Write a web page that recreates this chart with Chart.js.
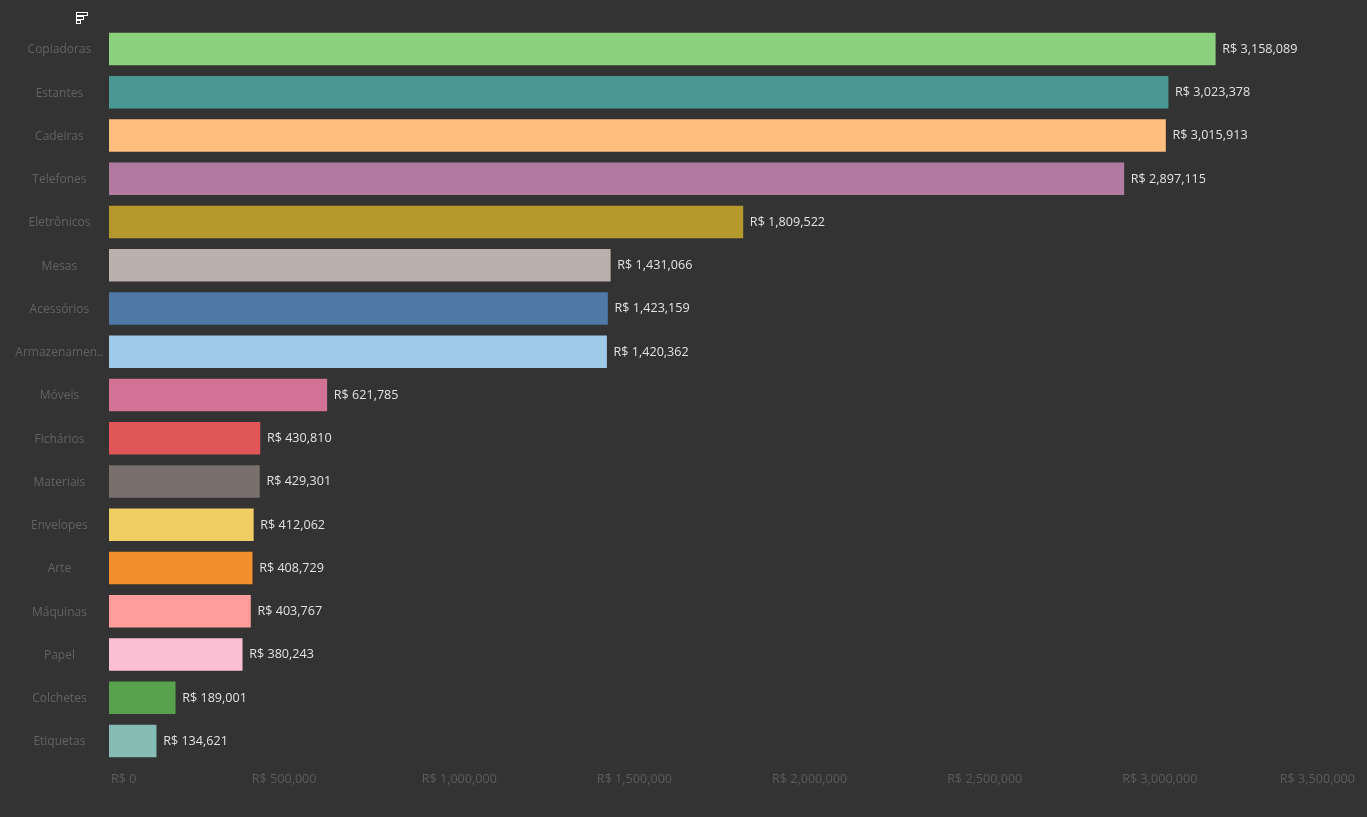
<!DOCTYPE html>
<html>
<head>
<meta charset="utf-8">
<title>Vendas por subcategoria</title>
<script src="https://cdn.jsdelivr.net/npm/chart.js@4/dist/chart.umd.min.js"></script>
<style>
    html, body { margin: 0; padding: 0; background: #333333; overflow: hidden; }
    canvas { display: block; }
</style>
</head>
<body>
<canvas id="salesChart" width="1367" height="817"></canvas>
<script>
const categories = ["Copiadoras", "Estantes", "Cadeiras", "Telefones", "Eletrônicos", "Mesas", "Acessórios", "Armazenamen..", "Móveis", "Fichários", "Materiais", "Envelopes", "Arte", "Máquinas", "Papel", "Colchetes", "Etiquetas"];
const sales = [3158089, 3023378, 3015913, 2897115, 1809522, 1431066, 1423159, 1420362, 621785, 430810, 429301, 412062, 408729, 403767, 380243, 189001, 134621];
const barColors = ["#8CD17D", "#499894", "#FFBE7D", "#B07AA1", "#B6992D", "#BAB0AC", "#4E79A7", "#A0CBE8", "#D37295", "#E15759", "#79706E", "#F1CE63", "#F28E2B", "#FF9D9A", "#FABFD2", "#59A14F", "#86BCB6"];
const xTicks = [0, 500000, 1000000, 1500000, 2000000, 2500000, 3000000, 3500000];
const xMax = 3557000;

const fontFamily = "'Open Sans', sans-serif";

function money(value){
    return "R$ " + value.toLocaleString("en-US");
}

//labels at the end of each bar
const valueLabels = {
    id: "valueLabels",
    afterDatasetsDraw(chart){
        let ctx = chart.ctx;
        let bars = chart.getDatasetMeta(0).data;
        ctx.save();
        ctx.font = "12.6px " + fontFamily;
        ctx.fillStyle = "#e2e2e2";
        ctx.textAlign = "left";
        ctx.textBaseline = "middle";
        bars.forEach((bar, i) => {
            ctx.fillText(money(sales[i]), bar.x + 7, bar.y + 0.3);
        });
        ctx.restore();
    }
};

//first and last axis label stay inside the pane, category labels sit a touch lower
const nudgeAxisLabels = {
    id: "nudgeAxisLabels",
    beforeDraw(chart){
        let items = chart.scales.x.getLabelItems(chart.chartArea);
        let first = items[0].options;
        let last = items[items.length - 1].options;
        first.textAlign = "left";
        first.translation[0] = chart.chartArea.left + 2;
        last.textAlign = "right";
        last.translation[0] = chart.chartArea.right;
        chart.scales.y.getLabelItems(chart.chartArea).forEach((item) => {
            item.options.translation[1] += 1;
        });
    }
};

//little sort icon above the header
const sortIcon = {
    id: "sortIcon",
    afterDraw(chart){
        let ctx = chart.ctx;
        ctx.save();
        ctx.strokeStyle = "#ffffff";
        ctx.lineWidth = 1;
        ctx.strokeRect(76.5, 12.5, 11, 3);
        ctx.strokeRect(76.5, 16.5, 7, 3);
        ctx.strokeRect(76.5, 20.5, 4, 3);
        ctx.restore();
    }
};

new Chart(document.getElementById("salesChart"), {
    type: "bar",
    data: {
        labels: categories,
        datasets: [{
            data: sales,
            backgroundColor: barColors,
            barThickness: 32
        }]
    },
    plugins: [valueLabels, nudgeAxisLabels, sortIcon],
    options: {
        indexAxis: "y",
        responsive: false,
        animation: false,
        layout: { autoPadding: false, padding: { top: 27.4, right: 12, bottom: 0, left: 0 } },
        plugins: {
            legend: { display: false },
            tooltip: { enabled: false }
        },
        scales: {
            x: {
                min: 0,
                max: xMax,
                grid: { display: false, drawTicks: false },
                border: { display: false },
                afterBuildTicks(scale){
                    scale.ticks = xTicks.map(v => ({ value: v }));
                },
                afterFit(scale){
                    scale.height = 54.4;
                    scale.paddingLeft = 0;
                    scale.paddingRight = 0;
                },
                ticks: {
                    autoSkip: false,
                    maxRotation: 0,
                    padding: 9,
                    color: "#5c5c5c",
                    font: { family: fontFamily, size: 12.6 },
                    callback: (value) => money(value)
                }
            },
            y: {
                grid: { display: false, drawTicks: false },
                border: { display: false },
                afterFit(scale){
                    scale.width = 109;
                },
                ticks: {
                    autoSkip: false,
                    crossAlign: "center",
                    padding: 5.5,
                    color: "#626262",
                    font: { family: fontFamily, size: 12 }
                }
            }
        }
    }
});
</script>
</body>
</html>
